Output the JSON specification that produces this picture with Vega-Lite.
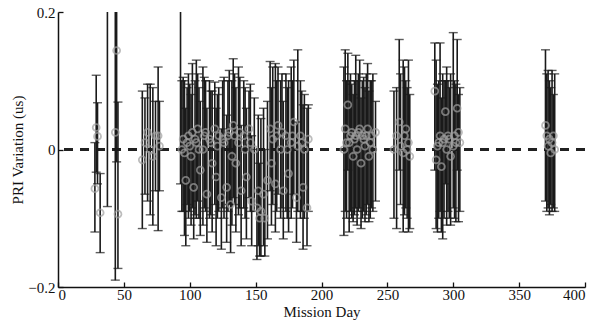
{
  "$schema": "https://vega.github.io/schema/vega-lite/v6.json",
  "width": 527,
  "height": 275,
  "autosize": {"type": "none"},
  "padding": {"left": 58, "top": 12, "right": 11, "bottom": 38},
  "background": "white",
  "config": {
    "view": {"stroke": null},
    "font": "Liberation Serif",
    "axis": {"labelFont": "Liberation Serif", "titleFont": "Liberation Serif", "labelFontSize": 15, "titleFontSize": 15, "labelColor": "#111", "titleColor": "#111", "titleFontWeight": "normal", "domainColor": "#111", "tickColor": "#111", "domainWidth": 1.5, "tickWidth": 1.3, "grid": false}
  },
  "data": {"values": [
    {"d": 28, "v": -0.057, "lo": -0.12, "hi": 0.01},
    {"d": 29, "v": 0.032, "lo": -0.033, "hi": 0.108},
    {"d": 30, "v": 0.019, "lo": -0.05, "hi": 0.068},
    {"d": 32, "v": -0.092, "lo": -0.15, "hi": -0.035},
    {"d": 37.5, "v": 0.26, "lo": -0.083, "hi": 0.6},
    {"d": 43.5, "v": 0.025, "lo": -0.19, "hi": 0.3},
    {"d": 44.5, "v": 0.144, "lo": -0.018, "hi": 0.3},
    {"d": 45.5, "v": -0.094, "lo": -0.173, "hi": 0.069},
    {"d": 64, "v": -0.015, "lo": -0.115, "hi": 0.085},
    {"d": 66, "v": 0.01, "lo": -0.065, "hi": 0.075},
    {"d": 68, "v": 0.025, "lo": -0.075, "hi": 0.095},
    {"d": 70, "v": 0.0, "lo": -0.095, "hi": 0.095},
    {"d": 72, "v": -0.01, "lo": -0.11, "hi": 0.09},
    {"d": 74, "v": 0.02, "lo": -0.06, "hi": 0.07},
    {"d": 76, "v": 0.02, "lo": -0.118, "hi": 0.12},
    {"d": 77, "v": 0.005, "lo": -0.06, "hi": 0.07},
    {"d": 93, "v": 0.25, "lo": -0.05, "hi": 0.5},
    {"d": 94, "v": 0.0, "lo": -0.09, "hi": 0.1},
    {"d": 95, "v": 0.015, "lo": -0.09, "hi": 0.105},
    {"d": 96, "v": -0.005, "lo": -0.125, "hi": 0.1},
    {"d": 97, "v": -0.045, "lo": -0.14, "hi": 0.06},
    {"d": 98, "v": 0.01, "lo": -0.08, "hi": 0.09},
    {"d": 99, "v": 0.02, "lo": -0.1, "hi": 0.11},
    {"d": 100, "v": 0.005, "lo": -0.09, "hi": 0.095},
    {"d": 101, "v": -0.01, "lo": -0.11, "hi": 0.08},
    {"d": 102, "v": 0.025, "lo": -0.085, "hi": 0.125},
    {"d": 103, "v": -0.055, "lo": -0.13, "hi": 0.03},
    {"d": 104, "v": 0.015, "lo": -0.095, "hi": 0.1},
    {"d": 105, "v": 0.01, "lo": -0.1, "hi": 0.13},
    {"d": 106, "v": 0.03, "lo": -0.075, "hi": 0.11},
    {"d": 107, "v": 0.0, "lo": -0.1, "hi": 0.09},
    {"d": 108, "v": -0.03, "lo": -0.125, "hi": 0.07},
    {"d": 110, "v": 0.0, "lo": -0.11, "hi": 0.12},
    {"d": 111, "v": 0.02, "lo": -0.085, "hi": 0.105},
    {"d": 112, "v": 0.025, "lo": -0.09, "hi": 0.1},
    {"d": 113, "v": -0.065, "lo": -0.135, "hi": 0.06},
    {"d": 115, "v": 0.015, "lo": -0.1, "hi": 0.1},
    {"d": 116, "v": 0.01, "lo": -0.095, "hi": 0.085},
    {"d": 117, "v": -0.02, "lo": -0.12, "hi": 0.085},
    {"d": 119, "v": 0.03, "lo": -0.08, "hi": 0.098},
    {"d": 120, "v": -0.04, "lo": -0.14, "hi": 0.06},
    {"d": 121, "v": 0.005, "lo": -0.1, "hi": 0.08},
    {"d": 122, "v": 0.02, "lo": -0.09, "hi": 0.09},
    {"d": 124, "v": -0.07, "lo": -0.145, "hi": 0.03},
    {"d": 125, "v": 0.015, "lo": -0.085, "hi": 0.1},
    {"d": 126, "v": 0.01, "lo": -0.1, "hi": 0.105},
    {"d": 128, "v": -0.055, "lo": -0.135, "hi": 0.05},
    {"d": 129, "v": 0.02, "lo": -0.09, "hi": 0.1},
    {"d": 130, "v": 0.025, "lo": -0.08, "hi": 0.115},
    {"d": 131, "v": -0.08, "lo": -0.15, "hi": 0.02},
    {"d": 132, "v": -0.01, "lo": -0.11, "hi": 0.1},
    {"d": 133, "v": 0.035, "lo": -0.07, "hi": 0.132},
    {"d": 134, "v": 0.02, "lo": -0.08, "hi": 0.11},
    {"d": 135, "v": -0.02, "lo": -0.12, "hi": 0.09},
    {"d": 137, "v": 0.01, "lo": -0.095, "hi": 0.12},
    {"d": 138, "v": 0.025, "lo": -0.085, "hi": 0.105},
    {"d": 139, "v": -0.06, "lo": -0.14, "hi": 0.035},
    {"d": 141, "v": 0.02, "lo": -0.085, "hi": 0.1},
    {"d": 142, "v": 0.0, "lo": -0.1, "hi": 0.09},
    {"d": 143, "v": -0.04, "lo": -0.13, "hi": 0.06},
    {"d": 145, "v": 0.03, "lo": -0.07, "hi": 0.085},
    {"d": 146, "v": 0.01, "lo": -0.09, "hi": 0.095},
    {"d": 147, "v": -0.075, "lo": -0.14, "hi": 0.02},
    {"d": 149, "v": 0.0, "lo": -0.09, "hi": 0.075},
    {"d": 151, "v": -0.085, "lo": -0.16, "hi": 0.0},
    {"d": 152, "v": -0.06, "lo": -0.14, "hi": 0.05},
    {"d": 153, "v": -0.1, "lo": -0.155, "hi": -0.02},
    {"d": 154, "v": -0.09, "lo": -0.155, "hi": 0.045},
    {"d": 156, "v": -0.065, "lo": -0.14, "hi": 0.06},
    {"d": 157, "v": -0.1, "lo": -0.155, "hi": 0.0},
    {"d": 159, "v": -0.045, "lo": -0.13, "hi": 0.07},
    {"d": 161, "v": 0.03, "lo": -0.06, "hi": 0.128},
    {"d": 162, "v": -0.02, "lo": -0.11, "hi": 0.09},
    {"d": 163, "v": 0.015, "lo": -0.08, "hi": 0.12},
    {"d": 165, "v": -0.05, "lo": -0.12, "hi": 0.125},
    {"d": 166, "v": 0.02, "lo": -0.09, "hi": 0.1},
    {"d": 167, "v": 0.035, "lo": -0.065, "hi": 0.12},
    {"d": 169, "v": 0.0, "lo": -0.1, "hi": 0.1},
    {"d": 170, "v": 0.025, "lo": -0.085, "hi": 0.11},
    {"d": 171, "v": -0.06, "lo": -0.13, "hi": 0.07},
    {"d": 173, "v": 0.02, "lo": -0.09, "hi": 0.11},
    {"d": 174, "v": 0.0, "lo": -0.1, "hi": 0.09},
    {"d": 175, "v": -0.035, "lo": -0.12, "hi": 0.1},
    {"d": 177, "v": 0.01, "lo": -0.1, "hi": 0.12},
    {"d": 178, "v": 0.02, "lo": -0.085, "hi": 0.1},
    {"d": 179, "v": 0.04, "lo": -0.065, "hi": 0.13},
    {"d": 181, "v": -0.07, "lo": -0.135, "hi": 0.04},
    {"d": 182, "v": 0.005, "lo": -0.09, "hi": 0.145},
    {"d": 184, "v": 0.02, "lo": -0.1, "hi": 0.1},
    {"d": 185, "v": 0.01, "lo": -0.09, "hi": 0.085},
    {"d": 186, "v": -0.055, "lo": -0.145, "hi": 0.065},
    {"d": 187, "v": 0.0, "lo": -0.1, "hi": 0.08},
    {"d": 189, "v": -0.085, "lo": -0.14, "hi": 0.06},
    {"d": 190, "v": 0.015, "lo": -0.09, "hi": 0.065},
    {"d": 217, "v": 0.0, "lo": -0.125, "hi": 0.12},
    {"d": 218, "v": 0.03, "lo": -0.09, "hi": 0.145},
    {"d": 219, "v": 0.01, "lo": -0.1, "hi": 0.1},
    {"d": 220, "v": 0.065, "lo": -0.03, "hi": 0.14},
    {"d": 221, "v": 0.01, "lo": -0.12, "hi": 0.1},
    {"d": 222, "v": 0.02, "lo": -0.09, "hi": 0.11},
    {"d": 223, "v": 0.025, "lo": -0.1, "hi": 0.095},
    {"d": 224, "v": -0.01, "lo": -0.105, "hi": 0.08},
    {"d": 225, "v": 0.015, "lo": -0.095, "hi": 0.1},
    {"d": 226, "v": 0.02, "lo": -0.085, "hi": 0.137},
    {"d": 227, "v": 0.0, "lo": -0.11, "hi": 0.1},
    {"d": 228, "v": 0.025, "lo": -0.09, "hi": 0.11},
    {"d": 229, "v": 0.03, "lo": -0.085, "hi": 0.13},
    {"d": 230, "v": -0.02, "lo": -0.115, "hi": 0.075},
    {"d": 231, "v": 0.02, "lo": -0.1, "hi": 0.1},
    {"d": 232, "v": 0.015, "lo": -0.09, "hi": 0.105},
    {"d": 233, "v": 0.005, "lo": -0.105, "hi": 0.09},
    {"d": 234, "v": 0.02, "lo": -0.095, "hi": 0.11},
    {"d": 235, "v": 0.03, "lo": -0.08, "hi": 0.125},
    {"d": 236, "v": -0.01, "lo": -0.105, "hi": 0.085},
    {"d": 237, "v": 0.01, "lo": -0.1, "hi": 0.1},
    {"d": 238, "v": 0.02, "lo": -0.085, "hi": 0.1},
    {"d": 239, "v": 0.0, "lo": -0.09, "hi": 0.11},
    {"d": 241, "v": 0.025, "lo": -0.075, "hi": 0.07},
    {"d": 255, "v": 0.0, "lo": -0.1, "hi": 0.085},
    {"d": 257, "v": 0.02, "lo": -0.115, "hi": 0.09},
    {"d": 259, "v": 0.04, "lo": -0.03, "hi": 0.16},
    {"d": 260, "v": 0.005, "lo": -0.08, "hi": 0.11},
    {"d": 262, "v": -0.005, "lo": -0.12, "hi": 0.13},
    {"d": 263, "v": 0.02, "lo": -0.095, "hi": 0.12},
    {"d": 264, "v": 0.03, "lo": -0.085, "hi": 0.1},
    {"d": 265, "v": 0.0, "lo": -0.1, "hi": 0.09},
    {"d": 266, "v": 0.01, "lo": -0.12, "hi": 0.13},
    {"d": 267, "v": -0.01, "lo": -0.115, "hi": 0.08},
    {"d": 286, "v": 0.085, "lo": -0.03, "hi": 0.155},
    {"d": 287, "v": -0.015, "lo": -0.115, "hi": 0.13},
    {"d": 288, "v": 0.005, "lo": -0.12, "hi": 0.095},
    {"d": 289, "v": 0.01, "lo": -0.1, "hi": 0.1},
    {"d": 290, "v": 0.02, "lo": -0.09, "hi": 0.155},
    {"d": 291, "v": -0.025, "lo": -0.12, "hi": 0.075},
    {"d": 292, "v": 0.01, "lo": -0.13, "hi": 0.11},
    {"d": 293, "v": 0.015, "lo": -0.1, "hi": 0.1},
    {"d": 294, "v": 0.055, "lo": -0.05, "hi": 0.1},
    {"d": 295, "v": 0.0, "lo": -0.11, "hi": 0.12},
    {"d": 296, "v": 0.02, "lo": -0.09, "hi": 0.1},
    {"d": 297, "v": 0.015, "lo": -0.1, "hi": 0.09},
    {"d": 298, "v": -0.01, "lo": -0.11, "hi": 0.11},
    {"d": 300, "v": 0.005, "lo": -0.085, "hi": 0.17},
    {"d": 301, "v": 0.02, "lo": -0.1, "hi": 0.1},
    {"d": 302, "v": 0.01, "lo": -0.105, "hi": 0.095},
    {"d": 303, "v": 0.06, "lo": -0.03, "hi": 0.16},
    {"d": 304, "v": 0.025, "lo": -0.105, "hi": 0.08},
    {"d": 305, "v": 0.01, "lo": -0.09, "hi": 0.09},
    {"d": 370, "v": 0.035, "lo": -0.075, "hi": 0.145},
    {"d": 371, "v": 0.02, "lo": -0.09, "hi": 0.11},
    {"d": 372, "v": 0.005, "lo": -0.085, "hi": 0.115},
    {"d": 373, "v": 0.015, "lo": -0.095, "hi": 0.1},
    {"d": 374, "v": -0.005, "lo": -0.08, "hi": 0.09},
    {"d": 375, "v": 0.01, "lo": -0.09, "hi": 0.115},
    {"d": 376, "v": 0.02, "lo": -0.085, "hi": 0.08},
    {"d": 377, "v": 0.0, "lo": -0.09, "hi": 0.11}
  ]},
  "layer": [
    {
      "mark": {"type": "rule", "strokeDash": [9, 7], "strokeWidth": 1.4, "color": "#222"},
      "encoding": {"y": {"datum": 0, "type": "quantitative", "scale": {"domain": [-0.2, 0.2]}}}
    },
    {
      "mark": {"type": "errorbar", "clip": true, "ticks": {"size": 9, "color": "#1a1a1a", "thickness": 1.4}, "rule": {"color": "#1a1a1a", "strokeWidth": 1.6}},
      "encoding": {
        "x": {"field": "d", "type": "quantitative", "scale": {"domain": [0, 400], "nice": false},
              "axis": {"title": "Mission Day", "values": [0, 50, 100, 150, 200, 250, 300, 350, 400], "tickSize": -5, "labelPadding": 5, "titlePadding": 2}},
        "y": {"field": "lo", "type": "quantitative", "scale": {"domain": [-0.2, 0.2], "nice": false},
              "axis": {"title": "PRI Variation (us)", "values": [-0.2, 0, 0.2], "tickSize": -5, "labelPadding": 8, "labelExpr": "datum.value == 0 ? '0' : format(datum.value, '.1f')", "titlePadding": 2}},
        "y2": {"field": "hi"}
      }
    },
    {
      "mark": {"type": "point", "clip": true, "filled": false, "shape": "circle", "size": 48, "strokeWidth": 1.8, "color": "#a0a0a0"},
      "encoding": {
        "x": {"field": "d", "type": "quantitative"},
        "y": {"field": "v", "type": "quantitative"}
      }
    }
  ]
}
